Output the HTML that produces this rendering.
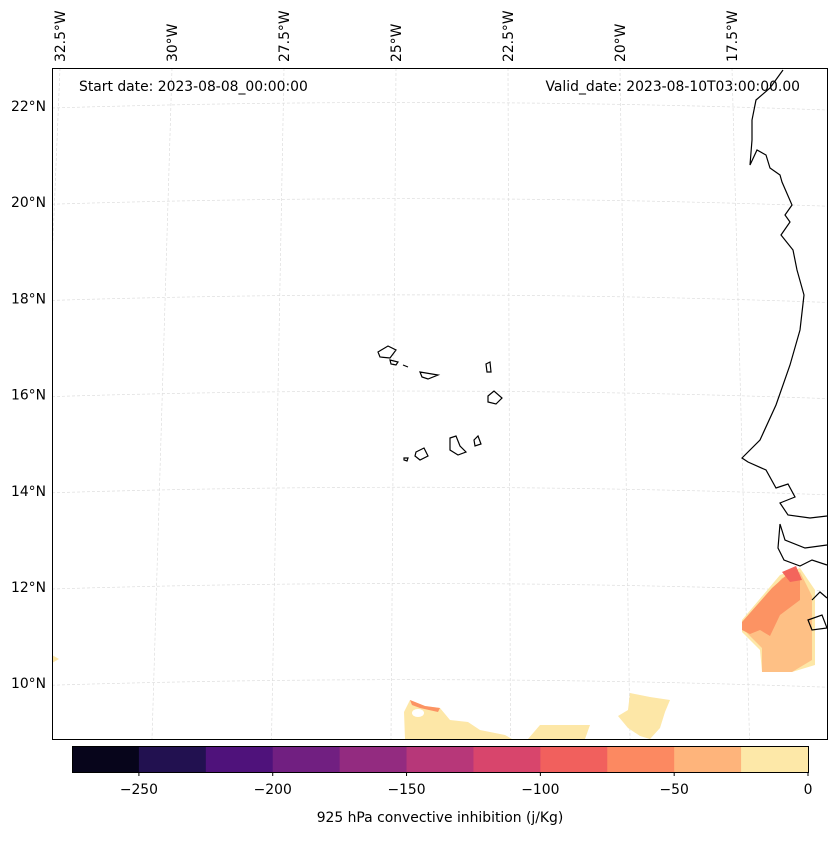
<!DOCTYPE html>
<html><head><meta charset="utf-8"><style>
body{margin:0;background:#fff;font-family:"Liberation Sans","DejaVu Sans",sans-serif}
svg text{font-family:"DejaVu Sans","Liberation Sans",sans-serif;font-size:13.9px;fill:#000}
</style></head><body>
<svg width="837" height="836" viewBox="0 0 837 836">
<defs><clipPath id="mapclip"><rect x="52.5" y="68.5" width="775" height="671"/></clipPath></defs>
<rect width="837" height="836" fill="#fff"/>
<g id="grid" clip-path="url(#mapclip)"></g>
<g>
 <path fill="#fde7a7" d="M742,620 L780,575 L800,568 L815,590 L815,665 L792,672 L762,672 L760,650 L742,632Z"/>
 <path fill="#fec085" d="M744,624 L782,578 L800,572 L812,596 L812,660 L792,672 L762,672 L762,648 L744,630Z"/>
 <path fill="#fc9363" d="M742,622 L772,588 L790,572 L800,578 L800,600 L780,615 L770,636 L760,630 L750,634 L742,630Z"/>
 <path fill="#f3655c" d="M782,572 L796,566 L802,580 L790,582Z"/>
 <path fill="#fde7a7" d="M410,700 L425,706 L440,708 L450,720 L468,722 L480,730 L505,735 L512,739 L528,739 L540,725 L590,725 L585,739 L405,739 L404,712Z M630,693 L650,697 L670,700 L665,712 L660,728 L650,739 L640,736 L628,728 L618,716 L628,710Z M52,655 L59,659 L52,663Z"/>
 <path fill="#fc9363" d="M410,700 L425,706 L440,708 L438,712 L420,708 L412,705Z"/>
 <ellipse cx="418" cy="713" rx="6" ry="4" fill="#fff"/>
</g>
<g fill="none" stroke="#000" stroke-width="1.2">
 <path d="M783,70 L770,88 L756,100 L752,120 L752,140 L750,165 L757,150 L766,155 L770,168 L780,175 L782,182 L792,205 L785,215 L790,222 L781,235 L793,250 L797,270 L804,295 L800,330 L790,365 L776,405 L760,440 L742,458 L748,462 L766,470 L776,488 L788,484 L795,497 L780,503 L788,515 L810,518 L827,516"/>
 <path d="M827,545 L805,548 L785,540 L780,524 L778,548 L784,560 L800,566 L812,560 L827,565 M812,600 L820,592 L827,598 M808,620 L822,615 L827,628 L812,630Z"/>
 <path d="M378,352 L388,346 L396,350 L390,358 L380,357Z M390,360 L398,362 L396,365 L391,364Z M403,365 L408,367 M420,372 L438,375 L428,379 L422,377Z M486,364 L490,362 L491,372 L487,372Z M488,396 L494,391 L502,398 L496,404 L488,402Z M416,452 L424,448 L428,456 L420,460 L415,456Z M404,458 L408,458 L407,461 L404,460Z M450,438 L456,436 L460,446 L466,452 L458,455 L450,450Z M474,440 L478,436 L481,444 L475,446Z"/>
</g>
<rect x="52.5" y="68.5" width="775" height="671" fill="none" stroke="#000" stroke-width="1"/>
<g text-anchor="end" id="latlab"></g>
<g id="lonlab"></g>
<text x="79" y="91">Start date: 2023-08-08_00:00:00</text>
<text x="800" y="91" text-anchor="end">Valid_date: 2023-08-10T03:00:00.00</text>
<g id="cbar"></g>
<text x="440" y="822" text-anchor="middle">925 hPa convective inhibition (j/Kg)</text>
</svg>
<script>
const levels=[-275,-250,-225,-200,-175,-150,-125,-100,-75,-50,-25,0];
const colors=["#07051b","#221150","#4f127b","#711f81","#932b80","#b73779","#d8456c","#f1605d","#fc8961","#feb47b","#fde8a8"];
const tickVals=[-250,-200,-150,-100,-50,0];
const tickLabels=["\u2212250","\u2212200","\u2212150","\u2212100","\u221250","0"];
const latVals=[22,20,18,16,14,12,10];
const lonVals=[-32.5,-30,-27.5,-25,-22.5,-20,-17.5];
const NS="http://www.w3.org/2000/svg";
function mk(t,a,p){const e=document.createElementNS(NS,t);for(const k in a)e.setAttribute(k,a[k]);p.appendChild(e);return e;}
const cx=v=>72+(v+275)/275*736;
const cb=document.getElementById('cbar');
for(let i=0;i<colors.length;i++){
 const r=mk('rect',{x:cx(levels[i]),y:746,width:cx(levels[i+1])-cx(levels[i])+0.5,height:26,fill:colors[i]},cb);
 
 
}
const fr=mk('rect',{x:72.5,y:746.5,width:736,height:26,fill:'none',stroke:'#000'},cb);


tickVals.forEach((v,i)=>{
 const l=mk('line',{x1:cx(v),x2:cx(v),y1:772,y2:776,stroke:'#000'},cb);
 
 
 const t=mk('text',{x:cx(v),y:794,'text-anchor':'middle'},cb);t.textContent=tickLabels[i];
 
 
});
const ly=lat=>106+(22-lat)*48.1;
const lxTop=lon=>60+(lon+32.5)*44.8;
const lxBot=lon=>152+(lon+30)*47.8;
const g=document.getElementById('grid'),ll=document.getElementById('latlab'),lo=document.getElementById('lonlab');
latVals.forEach(lat=>{
 const y=ly(lat);
 const p=mk('path',{d:`M52,${y+2} Q440,${y-10} 827,${y+4}`,stroke:'#ddd','stroke-width':0.7,'stroke-dasharray':'3,2',fill:'none'},g);
 
 
 const t=mk('text',{x:46,y:y+5},ll);t.textContent=lat+'\u00b0N';
 
 
});
lonVals.forEach(lon=>{
 const xt=lxTop(lon),xb=lxBot(lon);
 const p=mk('line',{x1:xt,y1:68,x2:xb,y2:739,stroke:'#ddd','stroke-width':0.7,'stroke-dasharray':'3,2'},g);
 
 
 const t=mk('text',{x:0,y:0,transform:`translate(${xt+5},62) rotate(-90)`},lo);t.textContent=Math.abs(lon)+'\u00b0W';
 
 
});
</script>
</body></html>
